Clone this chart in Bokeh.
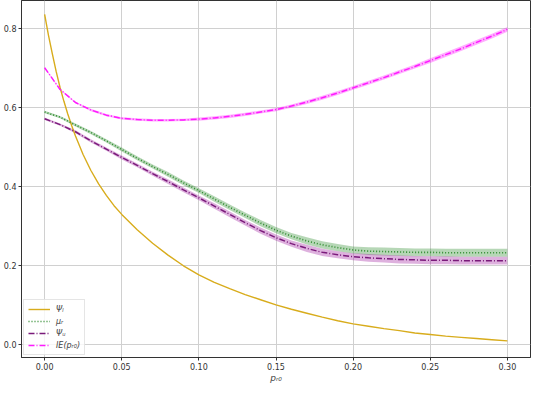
from bokeh.plotting import figure
from bokeh.models import FixedTicker, NumeralTickFormatter, Range1d, Legend, LegendItem
from bokeh.embed import file_html
from bokeh.resources import INLINE

p_r0 = [0.00, 0.01, 0.02, 0.03, 0.04, 0.05, 0.06, 0.07, 0.08, 0.09, 0.10,
        0.11, 0.12, 0.13, 0.14, 0.15, 0.16, 0.17, 0.18, 0.19, 0.20,
        0.21, 0.22, 0.23, 0.24, 0.25, 0.26, 0.27, 0.28, 0.29, 0.30]

psi_l_x = [0.000, 0.0025, 0.005, 0.0075, 0.010, 0.0125, 0.015, 0.0175, 0.020, 0.025, 0.030, 0.035,
           0.040, 0.045, 0.050, 0.060, 0.070, 0.080, 0.090, 0.100,
           0.110, 0.120, 0.130, 0.140, 0.150, 0.160, 0.170, 0.180, 0.190, 0.200,
           0.210, 0.220, 0.230, 0.240, 0.250, 0.260, 0.270, 0.280, 0.290, 0.300]
psi_l = [0.835, 0.782, 0.735, 0.690, 0.650, 0.615, 0.583, 0.554, 0.527, 0.480, 0.440, 0.406,
         0.377, 0.351, 0.329, 0.290, 0.256, 0.226, 0.199, 0.176,
         0.157, 0.141, 0.126, 0.113, 0.100, 0.089, 0.079, 0.069, 0.060, 0.052,
         0.046, 0.040, 0.035, 0.029, 0.025, 0.021, 0.018, 0.015, 0.012, 0.009]

mu_r = [0.588, 0.575, 0.555, 0.536, 0.515, 0.493, 0.471, 0.450, 0.430, 0.409, 0.389,
        0.368, 0.347, 0.327, 0.307, 0.289, 0.274, 0.262, 0.252, 0.245, 0.239,
        0.236, 0.235, 0.234, 0.233, 0.233, 0.232, 0.232, 0.232, 0.232, 0.232]
mu_r_hw = [0.003, 0.003, 0.004, 0.004, 0.004, 0.005, 0.005, 0.005, 0.006, 0.006, 0.006,
           0.007, 0.007, 0.007, 0.008, 0.008, 0.008, 0.009, 0.009, 0.009, 0.009,
           0.010, 0.010, 0.010, 0.010, 0.010, 0.010, 0.010, 0.010, 0.010, 0.010]

psi_u = [0.571, 0.556, 0.538, 0.515, 0.494, 0.473, 0.453, 0.432, 0.412, 0.391, 0.371,
         0.350, 0.329, 0.308, 0.288, 0.270, 0.255, 0.243, 0.233, 0.227, 0.222,
         0.219, 0.217, 0.215, 0.214, 0.213, 0.213, 0.212, 0.212, 0.212, 0.212]
psi_u_hw = [0.003, 0.003, 0.004, 0.004, 0.004, 0.005, 0.005, 0.005, 0.006, 0.006, 0.006,
            0.007, 0.007, 0.007, 0.008, 0.008, 0.008, 0.009, 0.009, 0.009, 0.009,
            0.010, 0.010, 0.010, 0.010, 0.010, 0.010, 0.010, 0.010, 0.010, 0.010]

ie_pr0 = [0.700, 0.645, 0.612, 0.593, 0.580, 0.572, 0.569, 0.567, 0.567, 0.568, 0.570,
          0.573, 0.577, 0.582, 0.588, 0.594, 0.603, 0.613, 0.624, 0.636, 0.649,
          0.662, 0.675, 0.689, 0.703, 0.718, 0.733, 0.748, 0.764, 0.780, 0.797]
ie_hw = [0.002, 0.002, 0.002, 0.003, 0.003, 0.003, 0.003, 0.003, 0.003, 0.003, 0.004,
         0.004, 0.004, 0.004, 0.004, 0.004, 0.004, 0.005, 0.005, 0.005, 0.005,
         0.005, 0.005, 0.005, 0.005, 0.006, 0.006, 0.006, 0.006, 0.006, 0.006]

x_ticks = [0.00, 0.05, 0.10, 0.15, 0.20, 0.25, 0.30]
y_ticks = [0.0, 0.2, 0.4, 0.6, 0.8]

labels = ["\u03a8\u2097", "\u03bc\u1d63", "\u03a8\u1d64", "IE(p\u1d63\u2080)"]

GOLD = "#d8ac1c"
GREEN = "#2e8b2e"
PURPLE = "#7a1a7a"
MAGENTA = "#ff1aff"

p = figure(width=534, height=385, output_backend="svg", toolbar_location=None,
           x_range=Range1d(-0.015, 0.315), y_range=Range1d(-0.033, 0.870),
           min_border_left=20, min_border_right=4, min_border_top=0, min_border_bottom=20)

def band(y, hw):
    return [a - b for a, b in zip(y, hw)], [a + b for a, b in zip(y, hw)]

lo, hi = band(mu_r, mu_r_hw)
p.varea(x=p_r0, y1=lo, y2=hi, fill_color=GREEN, fill_alpha=0.35)
lo, hi = band(psi_u, psi_u_hw)
p.varea(x=p_r0, y1=lo, y2=hi, fill_color="#a020a0", fill_alpha=0.35)
lo, hi = band(ie_pr0, ie_hw)
p.varea(x=p_r0, y1=lo, y2=hi, fill_color=MAGENTA, fill_alpha=0.35)

r1 = p.line(psi_l_x, psi_l, line_color=GOLD, line_width=1.4)
r2 = p.line(p_r0, mu_r, line_color=GREEN, line_width=1.6, line_dash="1 2")
r3 = p.line(p_r0, psi_u, line_color=PURPLE, line_width=1.5, line_dash="6 2 1 2")
r4 = p.line(p_r0, ie_pr0, line_color=MAGENTA, line_width=1.5, line_dash="6 2 1 2")

legend = Legend(items=[LegendItem(label=labels[0], renderers=[r1]),
                       LegendItem(label=labels[1], renderers=[r2]),
                       LegendItem(label=labels[2], renderers=[r3]),
                       LegendItem(label=labels[3], renderers=[r4])],
                location="bottom_left")
legend.label_text_font_size = "8px"
legend.label_text_font = "DejaVu Sans"
legend.label_text_font_style = "italic"
legend.glyph_width = 22
legend.glyph_height = 10
legend.label_height = 10
legend.spacing = 2
legend.padding = 4
legend.margin = 2
legend.label_standoff = 6
legend.border_line_color = "#cccccc"
legend.background_fill_alpha = 0.8
p.add_layout(legend)

p.xaxis.ticker = FixedTicker(ticks=x_ticks)
p.yaxis.ticker = FixedTicker(ticks=y_ticks)
p.xaxis.formatter = NumeralTickFormatter(format="0.00")
p.yaxis.formatter = NumeralTickFormatter(format="0.0")
p.xaxis.axis_label = "p\u1d63\u2080"
p.xaxis.axis_label_text_font_style = "italic"
p.xaxis.axis_label_text_font_size = "9px"
p.xaxis.axis_label_standoff = 0
for ax in (p.xaxis, p.yaxis):
    ax.major_label_text_font_size = "8px"
    ax.major_label_text_font = "DejaVu Sans"
    ax.major_label_text_color = "#333333"
    ax.major_label_standoff = 2
    ax.minor_tick_line_color = None
    ax.major_tick_out = 3
    ax.major_tick_in = 0
    ax.axis_line_color = "#333333"
    ax.major_tick_line_color = "#333333"
    ax.axis_label_text_font = "DejaVu Sans"
p.xgrid.grid_line_color = "#d0d0d0"
p.ygrid.grid_line_color = "#d0d0d0"
p.outline_line_color = "#333333"
p.outline_line_alpha = 1.0

open("out.html", "w").write(file_html(p, INLINE))
